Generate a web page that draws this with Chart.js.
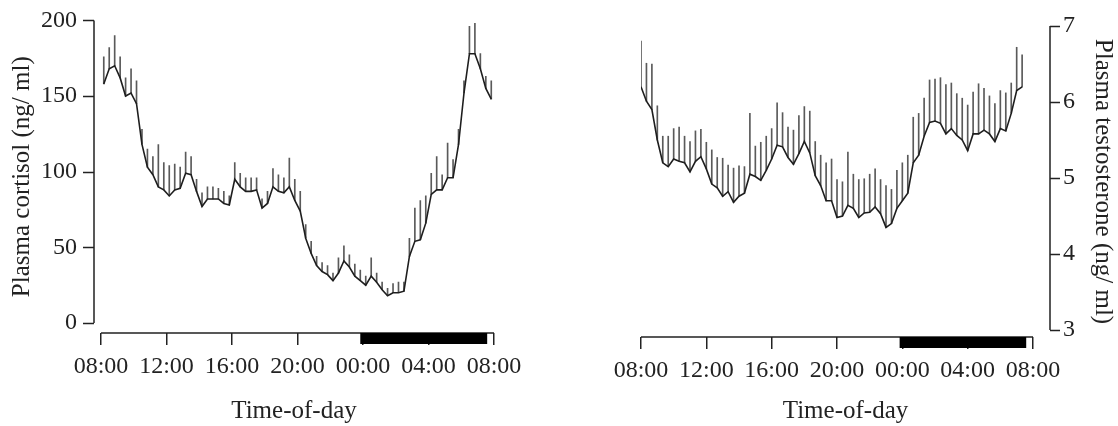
<!DOCTYPE html>
<html>
<head>
<meta charset="utf-8">
<script src="https://cdn.jsdelivr.net/npm/chart.js@4.4.1/dist/chart.umd.min.js"></script>
<style>
    html, body { margin: 0; padding: 0; background: #fff; }
    body { width: 1118px; height: 426px; position: relative; overflow: hidden; }
    canvas { position: absolute; top: 0; }
    #cortisolChart { left: 0; }
    #testosteroneChart { left: 560px; }
</style>
</head>
<body>
<canvas id="cortisolChart" width="540" height="426"></canvas>
<canvas id="testosteroneChart" width="558" height="426"></canvas>
<script>
// sampling: one mean (+ SE) every 20 minutes, hours counted from 08:00
const sampleStep = 20;
const cortisolStart = '08:10';
const testosteroneStart = '08:00';

const cortisolMean = [
    158, 168, 170, 162, 150, 152, 145, 118, 103, 98,
    90, 88, 84, 88, 89, 99, 98, 87, 77, 82,
    82, 82, 79, 78, 95, 90, 87, 87, 88, 76,
    79, 90, 87, 86, 90, 81, 74, 56, 46, 38,
    34, 32, 28, 33, 41, 37, 31, 28, 25, 31,
    27, 22, 18, 20, 20, 21, 44, 54, 55, 66,
    85, 88, 88, 96, 96, 118, 152, 178, 178, 168,
    155, 148
];
const cortisolSE = [
    18, 14, 20, 14, 12, 16, 15, 10, 12, 12,
    28, 18, 20, 17, 14, 14, 12, 8, 9, 8,
    8, 7, 8, 6, 11, 9, 9, 9, 8, 6,
    8, 12, 11, 10, 19, 14, 13, 9, 8, 6,
    6, 6, 5, 10, 10, 8, 8, 7, 6, 12,
    6, 5, 5, 6, 7, 6, 12, 22, 26, 18,
    14, 22, 10, 23, 12, 10, 8, 18, 20, 10,
    8, 12
];

const testosteroneMean = [
    6.2, 6.01, 5.9, 5.5, 5.2, 5.15, 5.25, 5.22, 5.2, 5.08,
    5.22, 5.28, 5.12, 4.92, 4.87, 4.76, 4.82, 4.68, 4.76, 4.8,
    5.05, 5.02, 4.97, 5.1, 5.25, 5.43, 5.41, 5.27, 5.18, 5.32,
    5.48, 5.33, 5.03, 4.9, 4.7, 4.7, 4.48, 4.5, 4.64, 4.6,
    4.48, 4.54, 4.55, 4.62, 4.53, 4.35, 4.4, 4.6, 4.7, 4.8,
    5.2, 5.3, 5.55, 5.73, 5.75, 5.72, 5.58, 5.65, 5.56, 5.5,
    5.36, 5.58, 5.58, 5.63, 5.58, 5.48, 5.65, 5.62, 5.85, 6.15,
    6.2
];
const testosteroneSE = [
    0.6, 0.5, 0.6, 0.45, 0.35, 0.4, 0.4, 0.45, 0.35, 0.4,
    0.4, 0.36, 0.35, 0.45, 0.4, 0.5, 0.35, 0.45, 0.4, 0.35,
    0.8, 0.4, 0.5, 0.45, 0.4, 0.56, 0.45, 0.4, 0.45, 0.5,
    0.46, 0.55, 0.45, 0.4, 0.5, 0.55, 0.5, 0.45, 0.7, 0.45,
    0.5, 0.45, 0.5, 0.5, 0.45, 0.55, 0.45, 0.5, 0.5, 0.5,
    0.6, 0.55, 0.5, 0.56, 0.55, 0.6, 0.65, 0.6, 0.55, 0.55,
    0.6, 0.55, 0.66, 0.55, 0.5, 0.5, 0.5, 0.5, 0.4, 0.57,
    0.42
];

const timeTicks = ['08:00', '12:00', '16:00', '20:00', '00:00', '04:00', '08:00'];
const cortisolTicks = [0, 50, 100, 150, 200];
const testosteroneTicks = [3, 4, 5, 6, 7];
const darkPeriod = ['23:50', '07:35'];

// clock time -> hours after 08:00 (wraps past midnight)
function toHours(hhmm, isEnd) {
    const [h, m] = hhmm.split(':').map(Number);
    let t = h + m / 60 - 8;
    if (t < 0 || (isEnd && t === 0)) t += 24;
    return t;
}
function hourLabel(v) {
    const h = Math.round(8 + v) % 24;
    return String(h).padStart(2, '0') + ':00';
}

Chart.defaults.font.family = "'Liberation Serif', 'Times New Roman', serif";
Chart.defaults.font.size = 24;
Chart.defaults.color = '#222';

// detached axis lines, y tick marks and the night bar
const offsetAxes = {
    id: 'offsetAxes',
    afterDraw(chart, args, opts) {
        const { ctx, chartArea, scales: { x, y } } = chart;
        ctx.save();
        ctx.strokeStyle = '#222';
        ctx.lineWidth = 1.5;
        ctx.beginPath();
        ctx.moveTo(x.getPixelForValue(opts.xFrom), chartArea.bottom);
        ctx.lineTo(x.getPixelForValue(opts.xTo), chartArea.bottom);
        const yx = opts.yRight ? chartArea.right : chartArea.left;
        ctx.moveTo(yx, y.getPixelForValue(opts.yFrom));
        ctx.lineTo(yx, y.getPixelForValue(opts.yTo));
        const dir = opts.yRight ? 1 : -1;
        y.ticks.forEach(t => {
            const py = Math.round(y.getPixelForValue(t.value)) + 0.5;
            ctx.moveTo(yx, py);
            ctx.lineTo(yx + dir * opts.yTickLen, py);
        });
        ctx.stroke();
        const x0 = x.getPixelForValue(toHours(darkPeriod[0]));
        const x1 = x.getPixelForValue(toHours(darkPeriod[1]));
        ctx.fillStyle = '#000';
        ctx.fillRect(x0, chartArea.bottom, x1 - x0, 11);
        ctx.restore();
    }
};

function buildSeries(start, mean, se) {
    const t0 = toHours(start);
    const line = mean.map((v, i) => ({ x: t0 + i * sampleStep / 60, y: v }));
    const bars = mean.map((v, i) => ({ x: t0 + i * sampleStep / 60, y: [v, v + se[i]] }));
    return { line, bars };
}

function makeChart(canvasId, cfg) {
    const s = buildSeries(cfg.start, cfg.mean, cfg.se);
    const tickHours = timeTicks.map((t, i) => toHours(t, i === timeTicks.length - 1));
    return new Chart(document.getElementById(canvasId), {
        type: 'bar',
        data: {
            datasets: [{
                type: 'line',
                data: s.line,
                borderColor: '#1e1e1e',
                borderWidth: 1.6,
                pointRadius: 0,
                tension: 0,
                order: 0
            }, {
                type: 'bar',
                data: s.bars,
                backgroundColor: '#5a5a5a',
                borderWidth: 0,
                barThickness: 1,
                order: 1
            }]
        },
        options: {
            responsive: false,
            animation: false,
            layout: { padding: cfg.padding },
            plugins: {
                legend: { display: false },
                tooltip: { enabled: false },
                offsetAxes: {
                    xFrom: 0, xTo: 24,
                    yFrom: cfg.yTicks[0], yTo: cfg.yTicks[cfg.yTicks.length - 1],
                    yRight: cfg.yPos === 'right', yTickLen: cfg.yTickLen
                }
            },
            scales: {
                x: {
                    type: 'linear',
                    offset: false,
                    min: cfg.xMin,
                    max: cfg.xMax,
                    afterBuildTicks: (scale) => { scale.ticks = tickHours.map(v => ({ value: v })); },
                    afterFit: (scale) => { scale.height = cfg.xHeight; },
                    border: { display: false },
                    grid: { offset: false, drawOnChartArea: false, drawTicks: true, tickLength: 12, color: '#222', lineWidth: 1.5 },
                    ticks: { callback: (v) => hourLabel(v), padding: 7, maxRotation: 0, autoSkip: false },
                    title: { display: true, text: 'Time-of-day', font: { size: 25 }, padding: { top: 0, bottom: 0 } }
                },
                y: {
                    position: cfg.yPos,
                    min: cfg.yMin,
                    max: cfg.yMax,
                    afterBuildTicks: (scale) => { scale.ticks = cfg.yTicks.map(v => ({ value: v })); },
                    afterFit: (scale) => { scale.width = cfg.yWidth; },
                    border: { display: false },
                    grid: { display: true, drawOnChartArea: false, drawTicks: true, tickLength: cfg.yTickLen, color: 'rgba(0,0,0,0)' },
                    ticks: { padding: cfg.yTickPad },
                    title: { display: true, text: cfg.yTitle, font: { size: 25 }, padding: { top: cfg.yTitlePad, bottom: 0 } }
                }
            }
        },
        plugins: [offsetAxes]
    });
}

makeChart('cortisolChart', {
    start: cortisolStart, mean: cortisolMean, se: cortisolSE,
    padding: { top: 20, right: 46, bottom: 0, left: 0 },
    xMin: -0.43, xMax: 24, xHeight: 93,
    yPos: 'left', yMin: -6.6, yMax: 200, yTicks: cortisolTicks,
    yWidth: 94, yTickLen: 11, yTickPad: 6, yTitlePad: 7,
    yTitle: 'Plasma cortisol (ng/ ml)'
});

makeChart('testosteroneChart', {
    start: testosteroneStart, mean: testosteroneMean, se: testosteroneSE,
    padding: { top: 26, right: 0, bottom: 0, left: 81 },
    xMin: 0, xMax: 25.04, xHeight: 89,
    yPos: 'right', yMin: 2.908, yMax: 7, yTicks: testosteroneTicks,
    yWidth: 68, yTickLen: 10, yTickPad: 3, yTitlePad: 0,
    yTitle: 'Plasma testosterone (ng/ ml)'
});
</script>
</body>
</html>
